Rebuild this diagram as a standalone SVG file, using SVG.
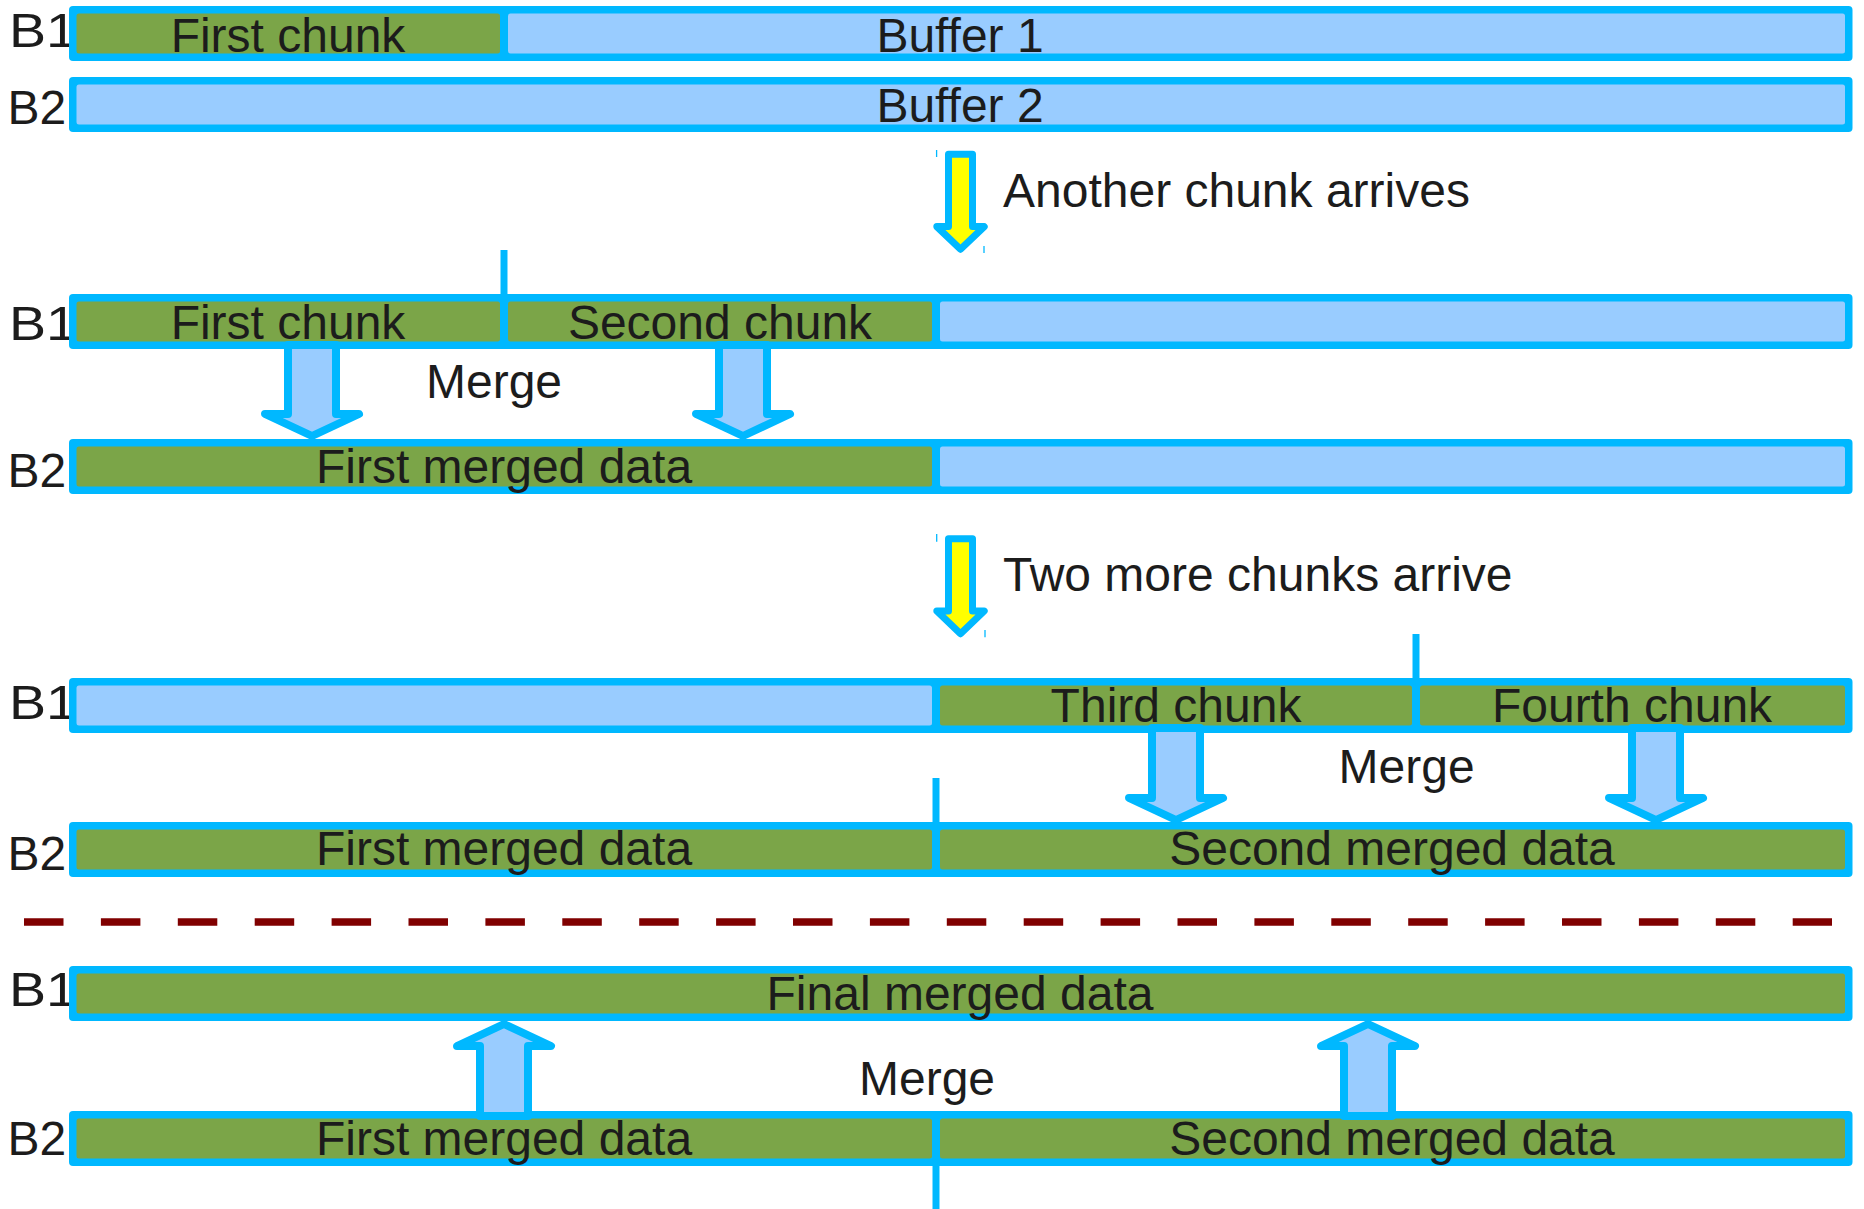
<svg xmlns="http://www.w3.org/2000/svg" width="1864" height="1209" viewBox="0 0 1864 1209">
<style>
.bar{fill:#00b8ff}
.g{fill:#7ba548}
.b{fill:#99ccff}
.t{font-family:"Liberation Sans",Arial,sans-serif;font-size:48px;fill:#1c1c1c}
.m{text-anchor:middle}
.tick{stroke:#00b8ff;stroke-width:7;fill:none}
.hair{stroke:#00b8ff;stroke-width:1.3;fill:none}
.ya{fill:#ffff00;stroke:#00b8ff;stroke-width:7;stroke-linejoin:round}
.ma{fill:#99ccff;stroke:#00b8ff;stroke-width:8;stroke-linejoin:round}
.dash{stroke:#800000;stroke-width:7.5;stroke-dasharray:39.5 37.4;fill:none}
</style>
<rect width="1864" height="1209" fill="#ffffff"/>

<g id="ticks">
<line class="tick" x1="504" y1="250" x2="504" y2="300"/>
<line class="tick" x1="1416" y1="634" x2="1416" y2="684"/>
<line class="tick" x1="936" y1="778" x2="936" y2="828"/>
<line class="tick" x1="936" y1="1160" x2="936" y2="1209"/>
</g>

<g id="row1">
<text class="t" x="8.9" y="46.7" textLength="68" lengthAdjust="spacingAndGlyphs">B1</text>
<rect class="bar" x="69" y="6" width="1783.5" height="55" rx="4"/>
<rect class="g" x="76.5" y="13.5" width="423.5" height="40" rx="2.5"/>
<rect class="b" x="508" y="13.5" width="1337" height="40" rx="2.5"/>
<text class="t m" x="288" y="51.5">First chunk</text>
<text class="t m" x="960" y="51.5">Buffer 1</text>
</g>

<g id="row2">
<text class="t" x="7.5" y="124.3">B2</text>
<rect class="bar" x="69" y="77" width="1783.5" height="55" rx="4"/>
<rect class="b" x="76.5" y="84.5" width="1768.5" height="40" rx="2.5"/>
<text class="t m" x="960" y="122">Buffer 2</text>
</g>

<g id="step1">
<text class="t" x="1003" y="206.7">Another chunk arrives</text>
</g>

<g id="row3">
<text class="t" x="8.9" y="340" textLength="68" lengthAdjust="spacingAndGlyphs">B1</text>
<rect class="bar" x="69" y="294" width="1783.5" height="55" rx="4"/>
<rect class="g" x="76.5" y="301.5" width="423.5" height="40" rx="2.5"/>
<rect class="g" x="508" y="301.5" width="424" height="40" rx="2.5"/>
<rect class="b" x="940" y="301.5" width="905" height="40" rx="2.5"/>
<text class="t m" x="288" y="339">First chunk</text>
<text class="t m" x="720" y="339">Second chunk</text>
</g>

<g id="merge1">
<text class="t m" x="494" y="398.3">Merge</text>
</g>

<g id="row4">
<text class="t" x="7.5" y="486.7">B2</text>
<rect class="bar" x="69" y="439" width="1783.5" height="55" rx="4"/>
<rect class="g" x="76.5" y="446.5" width="855.5" height="40" rx="2.5"/>
<rect class="b" x="940" y="446.5" width="905" height="40" rx="2.5"/>
<text class="t m" x="504" y="483">First merged data</text>
</g>

<g id="step2">
<text class="t" x="1003" y="590.7">Two more chunks arrive</text>
</g>

<g id="row5">
<text class="t" x="8.9" y="719.3" textLength="68" lengthAdjust="spacingAndGlyphs">B1</text>
<rect class="bar" x="69" y="678" width="1783.5" height="55" rx="4"/>
<rect class="b" x="76.5" y="685.5" width="855.5" height="40" rx="2.5"/>
<rect class="g" x="940" y="685.5" width="472" height="40" rx="2.5"/>
<rect class="g" x="1420" y="685.5" width="425" height="40" rx="2.5"/>
<text class="t m" x="1176" y="721.7">Third chunk</text>
<text class="t m" x="1632" y="721.7">Fourth chunk</text>
</g>

<g id="merge2">
<text class="t m" x="1406.6" y="783.3">Merge</text>
</g>

<g id="row6">
<text class="t" x="7.5" y="870">B2</text>
<rect class="bar" x="69" y="822" width="1783.5" height="55" rx="4"/>
<rect class="g" x="76.5" y="829.5" width="855.5" height="40" rx="2.5"/>
<rect class="g" x="940" y="829.5" width="905" height="40" rx="2.5"/>
<text class="t m" x="504" y="865">First merged data</text>
<text class="t m" x="1392" y="865">Second merged data</text>
</g>

<g id="separator">
<line class="dash" x1="24" y1="922" x2="1832" y2="922"/>
</g>

<g id="row7">
<text class="t" x="8.9" y="1006" textLength="68" lengthAdjust="spacingAndGlyphs">B1</text>
<rect class="bar" x="69" y="966" width="1783.5" height="55" rx="4"/>
<rect class="g" x="76.5" y="973.5" width="1768.5" height="40" rx="2.5"/>
<text class="t m" x="960" y="1010">Final merged data</text>
</g>

<g id="merge3">
<text class="t m" x="927" y="1095">Merge</text>
</g>

<g id="row8">
<text class="t" x="7.5" y="1154.5">B2</text>
<rect class="bar" x="69" y="1111" width="1783.5" height="55" rx="4"/>
<rect class="g" x="76.5" y="1118.5" width="855.5" height="40" rx="2.5"/>
<rect class="g" x="940" y="1118.5" width="905" height="40" rx="2.5"/>
<text class="t m" x="504" y="1155">First merged data</text>
<text class="t m" x="1392" y="1155">Second merged data</text>
</g>

<g id="connectors">
<path class="ya" d="M948.5,154.3 V226.6 H936.8 L960.5,249.3 L984.2,226.6 H972.5 V154.3 Z"/>
<line class="hair" x1="936.6" y1="150" x2="936.6" y2="157"/>
<line class="hair" x1="984" y1="246" x2="984" y2="253"/>
<path class="ya" d="M948.5,538.7 V611 H936.8 L960.5,633.7 L984.2,611 H972.5 V538.7 Z"/>
<line class="hair" x1="936.7" y1="534" x2="936.7" y2="541.7"/>
<line class="hair" x1="985" y1="630" x2="985" y2="637.3"/>

<path class="ma" d="M288,345 V414 H265 L312,436 L359,414 H336 V345 Z"/>
<path class="ma" d="M719,345 V414 H696 L743,436 L790,414 H767 V345 Z"/>
<path class="ma" d="M1152,728 V798 H1129 L1176,820 L1223,798 H1200 V728 Z"/>
<path class="ma" d="M1632,728 V798 H1609 L1656,820 L1703,798 H1680 V728 Z"/>

<path class="ma" d="M480,1116 V1046 H457 L504,1024 L551,1046 H528 V1116 Z"/>
<path class="ma" d="M1344,1116 V1046 H1321 L1368,1024 L1415,1046 H1392 V1116 Z"/>
</g>
</svg>
